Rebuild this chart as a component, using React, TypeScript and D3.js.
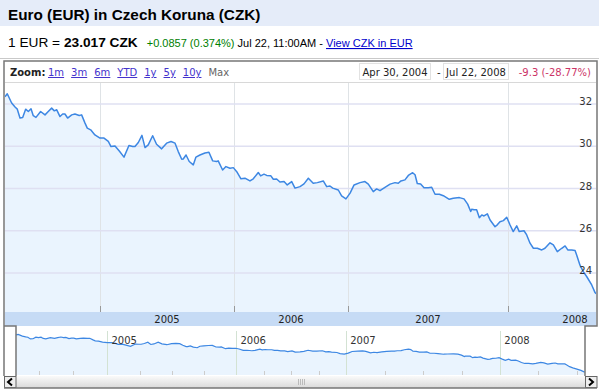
import React, { useLayoutEffect, useRef } from 'react';
import * as d3 from 'd3';

// EUR -> CZK, x as decimal year (Apr 30 2004 .. Jul 22 2008)
const years = [
  2004.328, 2004.344, 2004.375, 2004.399, 2004.415, 2004.434, 2004.453, 2004.474, 2004.493, 2004.512,
  2004.528, 2004.547, 2004.58, 2004.611, 2004.634, 2004.658, 2004.677, 2004.694, 2004.717, 2004.736,
  2004.752, 2004.771, 2004.8, 2004.823, 2004.853, 2004.87, 2004.894, 2004.91, 2004.934, 2004.964,
  2005.0, 2005.03, 2005.062, 2005.082, 2005.112, 2005.144, 2005.179, 2005.216, 2005.244, 2005.261,
  2005.286, 2005.313, 2005.336, 2005.36, 2005.393, 2005.422, 2005.46, 2005.497, 2005.53, 2005.56,
  2005.584, 2005.61, 2005.621, 2005.642, 2005.666, 2005.696, 2005.716, 2005.746, 2005.783, 2005.813,
  2005.841, 2005.87, 2005.882, 2005.915, 2005.94, 2005.97, 2005.995, 2006.024, 2006.061, 2006.096,
  2006.14, 2006.169, 2006.213, 2006.234, 2006.263, 2006.287, 2006.322, 2006.345, 2006.374, 2006.403,
  2006.439, 2006.467, 2006.506, 2006.535, 2006.579, 2006.614, 2006.652, 2006.695, 2006.731, 2006.783,
  2006.813, 2006.842, 2006.866, 2006.915, 2006.944, 2006.982, 2007.013, 2007.038, 2007.075, 2007.106,
  2007.127, 2007.158, 2007.179, 2007.2, 2007.231, 2007.263, 2007.294, 2007.314, 2007.331, 2007.356,
  2007.377, 2007.404, 2007.419, 2007.433, 2007.454, 2007.475, 2007.502, 2007.523, 2007.544, 2007.571,
  2007.596, 2007.633, 2007.658, 2007.696, 2007.725, 2007.748, 2007.767, 2007.773, 2007.788, 2007.804,
  2007.821, 2007.836, 2007.85, 2007.871, 2007.888, 2007.919, 2007.933, 2007.95, 2007.971, 2007.992,
  2008.013, 2008.033, 2008.055, 2008.071, 2008.101, 2008.118, 2008.139, 2008.16, 2008.185, 2008.213,
  2008.233, 2008.265, 2008.286, 2008.311, 2008.339, 2008.36, 2008.377, 2008.402, 2008.423, 2008.433,
  2008.454, 2008.475, 2008.497, 2008.528, 2008.549, 2008.555,
];
const rates = [
  32.35, 32.49, 32.05, 31.86, 31.76, 31.34, 31.37, 31.76, 31.65, 31.78,
  31.45, 31.37, 31.65, 31.49, 31.65, 31.81, 31.68, 31.73, 31.41, 31.53,
  31.53, 31.34, 31.49, 31.53, 31.46, 31.49, 31.1, 30.86, 30.78, 30.54,
  30.39, 30.39, 30.23, 29.99, 30.02, 29.78, 29.49, 30.04, 29.99, 29.99,
  30.18, 30.52, 29.94, 30.07, 30.5, 30.1, 29.88, 30.15, 30.23, 30.15,
  29.75, 29.39, 29.4, 29.59, 29.28, 29.12, 29.49, 29.59, 29.68, 29.72,
  29.31, 29.28, 29.31, 28.88, 29.04, 28.96, 28.99, 28.8, 28.46, 28.49,
  28.36, 28.46, 28.76, 28.6, 28.68, 28.62, 28.61, 28.44, 28.45, 28.31,
  28.33, 28.17, 28.33, 28.02, 28.09, 28.22, 28.49, 28.25, 28.28, 28.36,
  28.09, 28.12, 28.02, 27.93, 27.65, 27.51, 27.78, 28.17, 28.28, 28.33,
  28.21, 27.85, 27.98, 27.9, 28.06, 28.21, 28.28, 28.25, 28.36, 28.41,
  28.62, 28.75, 28.65, 28.24, 28.22, 28.04, 28.04, 28.06, 27.73, 27.73,
  27.66, 27.49, 27.54, 27.57, 27.51, 27.26, 26.91, 27.02, 26.99, 26.99,
  26.62, 26.75, 26.7, 26.8, 26.51, 26.19, 26.28, 26.43, 26.48, 26.64,
  26.27, 25.96, 26.23, 25.96, 26.0, 25.8, 25.41, 25.17, 25.17, 25.09,
  25.17, 25.43, 25.33, 25.01, 25.17, 25.28, 25.09, 25.09, 25.06, 24.85,
  24.37, 24.06, 23.82, 23.43, 23.07, 23.02,
];

const yTicks = [24, 26, 28, 30, 32];
const yearStarts = [2005, 2006, 2007, 2008];
const quarterTicks = [
  2004.5, 2004.75, 2005.25, 2005.5, 2005.75, 2006.25, 2006.5, 2006.75, 2007.25, 2007.5, 2007.75,
  2008.25, 2008.5,
];
const zoomLinks = ['1m', '3m', '6m', 'YTD', '1y', '5y', '10y'];

const W = 599;
const H = 389;
const VERDANA = 'DejaVu Sans, Verdana, sans-serif';
const ARIAL = 'Liberation Sans, Arial, sans-serif';

const App = () => {
  const chartRef = useRef<SVGSVGElement>(null);

  useLayoutEffect(() => {
    const svg = d3.select(chartRef.current);
    svg.selectAll('*').remove();

    const data = years.map((t, i) => ({ t, v: rates[i] }));
    const plot = { left: 5, right: 596, top: 83, bottom: 312 };
    const nav = { left: 16, right: 585, top: 327, bottom: 375 };

    // google's axis is not linear in time: each year gets its own width
    const xDomain = [years[0], 2005, 2006, 2007, 2008, years[years.length - 1]];
    const xRange = [5, 100, 234, 348, 508, 596];
    const x = d3.scaleLinear().domain(xDomain).range(xRange);
    const y = d3.scaleLinear().domain([22.15, 33.0]).range([plot.bottom, plot.top]);

    const xn = d3
      .scaleLinear()
      .domain(xDomain)
      .range(xRange.map((r) => nav.left + ((r - plot.left) / (plot.right - plot.left)) * (nav.right - nav.left)));
    const yn = d3.scaleLinear().domain([22.27, 34.33]).range([nav.bottom, nav.top]);

    // header
    svg.append('rect').attr('x', 0).attr('y', 0).attr('width', W).attr('height', 26).attr('fill', '#e5ecf9');
    svg
      .append('text')
      .attr('x', 8)
      .attr('y', 20)
      .attr('font-family', ARIAL)
      .attr('font-size', 15.3)
      .attr('font-weight', 'bold')
      .attr('fill', '#000')
      .text('Euro (EUR) in Czech Koruna (CZK)');

    const quote = svg.append('text').attr('x', 8).attr('y', 47).attr('font-family', ARIAL).attr('fill', '#000');
    quote.append('tspan').attr('font-size', 13.7).text('1 EUR = ');
    quote.append('tspan').attr('font-size', 13.7).attr('font-weight', 'bold').text('23.017 CZK');
    quote.append('tspan').attr('font-size', 11).attr('dx', 9).attr('fill', '#008000').text('+0.0857 ');
    quote.append('tspan').attr('font-size', 11).attr('fill', '#008000').text('(0.374%)');
    quote.append('tspan').attr('font-size', 11).text(' Jul 22, 11:00AM - ');
    quote
      .append('tspan')
      .attr('font-size', 11)
      .attr('fill', '#0000cc')
      .attr('text-decoration', 'underline')
      .text('View CZK in EUR');

    svg.append('line').attr('x1', 0).attr('x2', W).attr('y1', 58.5).attr('y2', 58.5).attr('stroke', '#c9c9c9');

    // zoom row
    svg.append('rect').attr('x', 4).attr('y', 61).attr('width', 593).attr('height', 265).attr('fill', '#fff');
    const zoomRow = svg.append('g').attr('font-family', VERDANA).attr('font-size', 10);
    zoomRow.append('text').attr('x', 10).attr('y', 76).attr('font-weight', 'bold').attr('fill', '#222').text('Zoom:');
    let zx = 48;
    zoomLinks.forEach((l) => {
      const t = zoomRow
        .append('text')
        .attr('x', zx)
        .attr('y', 76)
        .attr('fill', '#4433cc')
        .attr('text-decoration', 'underline')
        .text(l);
      zx += (t.node() as SVGTextElement).getComputedTextLength() + 7;
    });
    zoomRow.append('text').attr('x', zx).attr('y', 76).attr('fill', '#666').text('Max');

    const dateBox = (x0: number, w: number, label: string) => {
      zoomRow
        .append('rect')
        .attr('x', x0 + 0.5)
        .attr('y', 63.5)
        .attr('width', w)
        .attr('height', 16)
        .attr('fill', '#fff')
        .attr('stroke', '#e2e2e2');
      zoomRow
        .append('text')
        .attr('x', x0 + w / 2 + 0.5)
        .attr('y', 76)
        .attr('text-anchor', 'middle')
        .attr('fill', '#222')
        .text(label);
    };
    dateBox(359, 71, 'Apr 30, 2004');
    zoomRow.append('text').attr('x', 437).attr('y', 76).attr('fill', '#222').text('-');
    dateBox(443, 65, 'Jul 22, 2008');
    zoomRow
      .append('text')
      .attr('x', 591)
      .attr('y', 76)
      .attr('text-anchor', 'end')
      .attr('fill', '#cc3366')
      .text('-9.3 (-28.77%)');

    svg
      .append('line')
      .attr('x1', plot.left)
      .attr('x2', plot.right)
      .attr('y1', 82.5)
      .attr('y2', 82.5)
      .attr('stroke', '#d8d8d8');

    // main plot
    svg.append('clipPath').attr('id', 'plotClip').append('rect')
      .attr('x', plot.left)
      .attr('y', plot.top)
      .attr('width', plot.right - plot.left)
      .attr('height', plot.bottom - plot.top);

    const main = svg.append('g').attr('clip-path', 'url(#plotClip)');
    main
      .append('path')
      .datum(data)
      .attr('fill', '#eaf4fe')
      .attr(
        'd',
        d3
          .area<{ t: number; v: number }>()
          .x((d) => x(d.t))
          .y0(plot.bottom)
          .y1((d) => y(d.v))
      );

    main
      .selectAll('.vgrid')
      .data(yearStarts)
      .enter()
      .append('line')
      .attr('x1', (d) => Math.round(x(d)) + 0.5)
      .attr('x2', (d) => Math.round(x(d)) + 0.5)
      .attr('y1', plot.top)
      .attr('y2', plot.bottom)
      .attr('stroke', '#dfe3e6');

    main
      .selectAll('.hgrid')
      .data(yTicks)
      .enter()
      .append('line')
      .attr('x1', plot.left)
      .attr('x2', plot.right)
      .attr('y1', (d) => y(d))
      .attr('y2', (d) => y(d))
      .attr('stroke', '#dfe0f2')
      .attr('stroke-width', 1.5);

    main
      .selectAll('.xtick')
      .data(yearStarts)
      .enter()
      .append('line')
      .attr('x1', (d) => Math.round(x(d)) + 0.5)
      .attr('x2', (d) => Math.round(x(d)) + 0.5)
      .attr('y1', plot.bottom - 6)
      .attr('y2', plot.bottom)
      .attr('stroke', '#999');

    main
      .append('path')
      .datum(data)
      .attr('fill', 'none')
      .attr('stroke', '#3d87e3')
      .attr('stroke-width', 1.5)
      .attr('stroke-linejoin', 'round')
      .attr(
        'd',
        d3
          .line<{ t: number; v: number }>()
          .x((d) => x(d.t))
          .y((d) => y(d.v))
      );

    svg
      .append('g')
      .attr('font-family', VERDANA)
      .attr('font-size', 10)
      .attr('fill', '#333')
      .attr('text-anchor', 'end')
      .selectAll('text')
      .data(yTicks)
      .enter()
      .append('text')
      .attr('x', 592)
      .attr('y', (d) => y(d) + 1)
      .text((d) => d);

    // x axis band
    svg
      .append('rect')
      .attr('x', plot.left)
      .attr('y', plot.bottom)
      .attr('width', plot.right - plot.left)
      .attr('height', 14)
      .attr('fill', '#c6dbf5');
    svg
      .append('g')
      .attr('font-family', VERDANA)
      .attr('font-size', 10)
      .attr('fill', '#222')
      .attr('text-anchor', 'middle')
      .selectAll('text')
      .data(yearStarts)
      .enter()
      .append('text')
      .attr('x', (d) => Math.min(x(d + 0.5), 575))
      .attr('y', 323)
      .text((d) => d);

    // navigator
    svg.append('rect').attr('x', nav.left).attr('y', 326).attr('width', nav.right - nav.left).attr('height', 50).attr('fill', '#fff');
    const navG = svg.append('g');
    navG
      .append('path')
      .datum(data)
      .attr('fill', '#eaf4fe')
      .attr(
        'd',
        d3
          .area<{ t: number; v: number }>()
          .x((d) => xn(d.t))
          .y0(nav.bottom)
          .y1((d) => yn(d.v))
      );
    navG
      .selectAll('.nvgrid')
      .data(yearStarts)
      .enter()
      .append('line')
      .attr('x1', (d) => Math.round(xn(d)) + 0.5)
      .attr('x2', (d) => Math.round(xn(d)) + 0.5)
      .attr('y1', 331)
      .attr('y2', nav.bottom)
      .attr('stroke', '#d3e2d3');
    navG
      .selectAll('.nqtick')
      .data(quarterTicks)
      .enter()
      .append('line')
      .attr('x1', (d) => Math.round(xn(d)) + 0.5)
      .attr('x2', (d) => Math.round(xn(d)) + 0.5)
      .attr('y1', nav.bottom - 4)
      .attr('y2', nav.bottom)
      .attr('stroke', '#ccc');
    navG
      .append('path')
      .datum(data)
      .attr('fill', 'none')
      .attr('stroke', '#3d87e3')
      .attr('stroke-width', 1.2)
      .attr(
        'd',
        d3
          .line<{ t: number; v: number }>()
          .x((d) => xn(d.t))
          .y((d) => yn(d.v))
      );
    navG
      .append('g')
      .attr('font-family', VERDANA)
      .attr('font-size', 10)
      .attr('fill', '#333')
      .selectAll('text')
      .data(yearStarts)
      .enter()
      .append('text')
      .attr('x', (d) => xn(d) + 4)
      .attr('y', 344)
      .text((d) => d);

    // scrollbar
    const grad = svg.append('linearGradient').attr('id', 'scrollGrad').attr('x1', 0).attr('x2', 0).attr('y1', 0).attr('y2', 1);
    grad.append('stop').attr('offset', '0%').attr('stop-color', '#fafafa');
    grad.append('stop').attr('offset', '100%').attr('stop-color', '#d9d9d9');
    svg.append('rect').attr('x', 4).attr('y', 376).attr('width', 593).attr('height', 12).attr('fill', 'url(#scrollGrad)');
    svg
      .append('g')
      .attr('stroke', '#bbb')
      .selectAll('line')
      .data([298, 300, 302, 304])
      .enter()
      .append('line')
      .attr('x1', (d) => d + 0.5)
      .attr('x2', (d) => d + 0.5)
      .attr('y1', 379)
      .attr('y2', 385);
    [4, 585].forEach((bx, i) => {
      svg
        .append('rect')
        .attr('x', bx + 0.5)
        .attr('y', 376.5)
        .attr('width', 11.5)
        .attr('height', 11)
        .attr('fill', '#eee')
        .attr('stroke', '#666');
      const cx = bx + 6;
      svg
        .append('path')
        .attr('d', i === 0 ? `M${cx + 2},378.5 L${cx - 2},382 L${cx + 2},385.5` : `M${cx - 2},378.5 L${cx + 2},382 L${cx - 2},385.5`)
        .attr('fill', 'none')
        .attr('stroke', '#000')
        .attr('stroke-width', 2);
    });

    // frame
    svg
      .append('path')
      .attr('d', 'M4,376 V61 H597 V326 H585 V376 M4,326 H16 V376 M4,388 H597')
      .attr('fill', 'none')
      .attr('stroke', '#777')
      .attr('stroke-width', 1.5);
  }, []);

  return (
    <>
      <style>{'body{margin:0}'}</style>
      <svg ref={chartRef} width={W} height={H} style={{ display: 'block', background: '#fff' }} />
    </>
  );
};

export default App;
